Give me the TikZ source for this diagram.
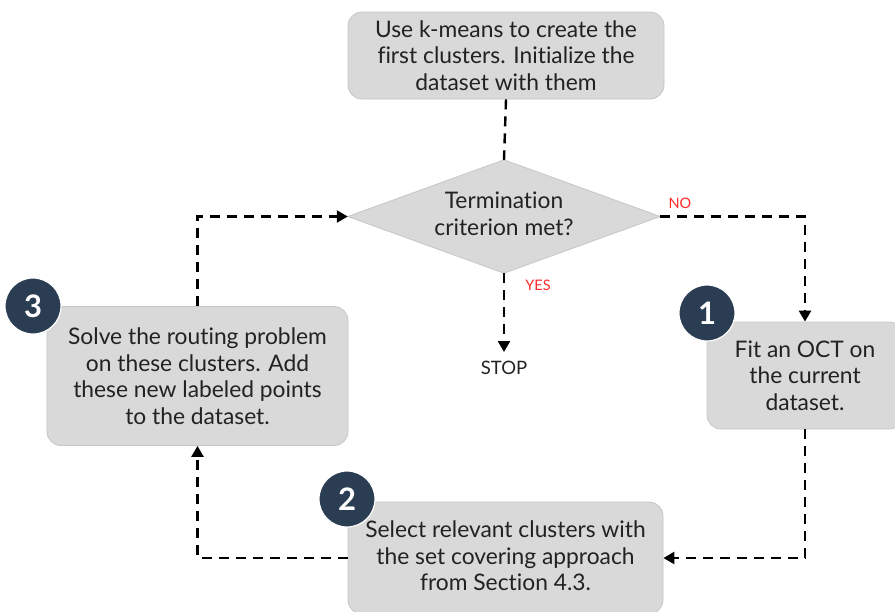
\documentclass[tikz,border=0pt]{standalone}
\usepackage{fontspec}
\setmainfont{Lato}[Ligatures=NoCommon]
\usetikzlibrary{arrows.meta,calc}
\definecolor{boxfill}{HTML}{D9D9D9}
\definecolor{boxline}{HTML}{C6C6C6}
\definecolor{badge}{HTML}{2A3D53}
\definecolor{txt}{HTML}{222222}
\definecolor{lbl}{HTML}{FF2A2A}
\tikzset{
  bodytext/.style={text=txt, align=center, font=\fontsize{22.8}{26.5}\selectfont},
  stepbox/.style={bodytext, draw=boxline, line width=0.8pt, fill=boxfill,
    rounded corners=14pt, inner sep=0pt},
  badgenum/.style={circle, fill=badge, draw=white, line width=1.2pt, text=white,
    minimum size=56pt, inner sep=0pt, font=\fontsize{31}{31}\selectfont\bfseries},
  flow/.style={line width=2.4pt, dash pattern=on 10pt off 7pt, draw=black},
  flowarrow/.style={flow, -{Triangle[length=11pt,width=12pt]}},
  tag/.style={text=lbl, font=\fontsize{14.5}{15}\selectfont, inner sep=0pt},
}
\begin{document}
\begin{tikzpicture}[x=1pt,y=-1pt]
\useasboundingbox (0,0) rectangle (895,611);
\clip (0,0) rectangle (895,611);

% process boxes
\node[stepbox, minimum width=316pt, minimum height=87pt] (init) at (506,55.5)
  {Use k-means to create the\\first clusters. Initialize the\\dataset with them};
\node[stepbox, minimum width=196pt, minimum height=107pt] (fit) at (805,375.5)
  {Fit an OCT on\\the current\\dataset.};
\node[stepbox, minimum width=315pt, minimum height=112pt] (select) at (505.5,558)
  {};
\node[bodytext] (selecttext) at (505.5,556)
  {Select relevant clusters with\\the set covering approach\\from Section 4.3.};
\node[stepbox, minimum width=301pt, minimum height=139pt] (route) at (197.5,376)
  {Solve the routing problem\\on these clusters. Add\\these new labeled points\\to the dataset.};

% decision diamond
\node[minimum width=312pt, minimum height=113pt, inner sep=0pt] (check) at (504,216.5) {};
\draw[draw=boxline, line width=0.8pt, fill=boxfill]
  (check.north) -- (check.east) -- (check.south) -- (check.west) -- cycle;
\node[bodytext] (checktext) at (504,214)
  {Termination\\criterion met?};

\node[text=txt, font=\fontsize{18.5}{18.5}\selectfont, inner sep=0pt] (stop) at (504,368) {STOP};

% step badges
\node[badgenum] (b1) at (707,313) {1};
\node[badgenum] (b2) at (347,499) {2};
\node[badgenum] (b3) at (33,306) {3};

% branch labels
\node[tag] (no) at (680,203) {NO};
\node[tag] (yes) at (538,285) {YES};

% connectors
\draw[flow] (init.south) -- (check.north);
\draw[flowarrow] (check.east) -| (fit.north);
\draw[flowarrow] (fit.south) |- (select.east);
\draw[flowarrow] (select.west) -| (route.south);
\draw[flowarrow] (route.north) |- (check.west);
\draw[flowarrow] (check.south) -- ($(stop.north)+(0,-9)$);
\end{tikzpicture}
\end{document}
